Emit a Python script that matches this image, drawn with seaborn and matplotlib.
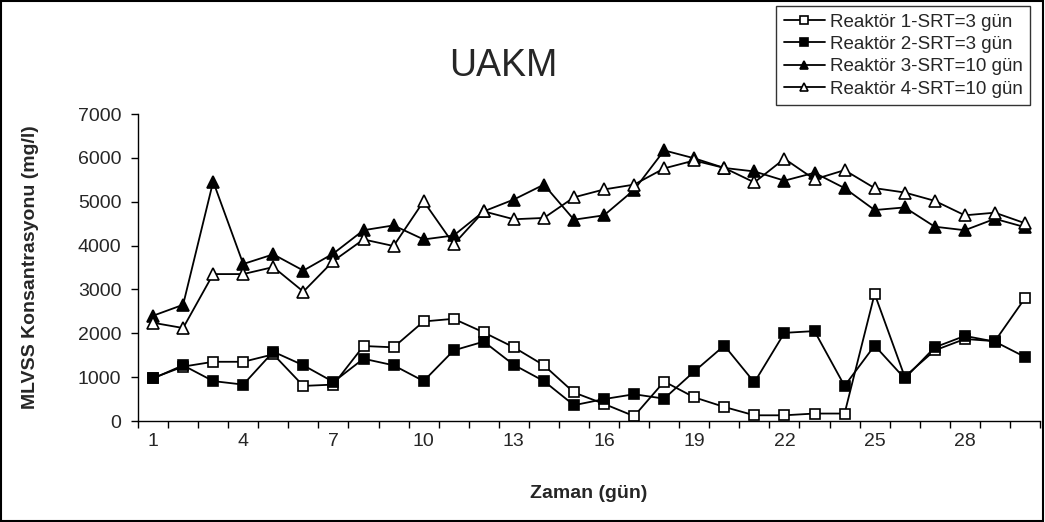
import numpy as np
import pandas as pd
import matplotlib
matplotlib.use("Agg")
import matplotlib.pyplot as plt
import seaborn as sns
from matplotlib.patches import Rectangle

days = list(range(1, 31))
r1 = [980, 1240, 1350, 1350, 1520, 800, 830, 1710, 1680, 2270, 2330, 2020,
      1680, 1270, 650, 390, 110, 900, 540, 320, 130, 130, 170, 170,
      2900, 1010, 1610, 1870, 1820, 2800]
r2 = [970, 1270, 910, 830, 1580, 1270, 890, 1420, 1270, 910, 1610, 1810,
      1280, 910, 360, 500, 610, 510, 1130, 1720, 880, 2010, 2050, 800,
      1720, 970, 1680, 1940, 1810, 1460]
r3 = [2400, 2650, 5460, 3580, 3800, 3430, 3820, 4350, 4460, 4140, 4230, 4780,
      5050, 5390, 4590, 4690, 5270, 6170, 5990, 5770, 5690, 5480, 5660, 5310,
      4810, 4870, 4430, 4350, 4610, 4420]
r4 = [2240, 2120, 3350, 3350, 3510, 2950, 3650, 4140, 3990, 5010, 4030, 4780,
      4600, 4630, 5100, 5280, 5390, 5760, 5940, 5770, 5440, 5980, 5510, 5720,
      5310, 5210, 5020, 4690, 4750, 4510]

labels = ["Reaktör 1-SRT=3 gün", "Reaktör 2-SRT=3 gün",
          "Reaktör 3-SRT=10 gün", "Reaktör 4-SRT=10 gün"]
series = [r1, r2, r3, r4]
styles = [("s", "white", 7), ("s", "black", 7),
          ("^", "black", 8.5), ("^", "white", 8.5)]


def main():
    sns.set_style("white")
    plt.rcParams["font.family"] = ["Liberation Sans", "DejaVu Sans"]

    fig = plt.figure(figsize=(10.45, 5.22), dpi=100)
    ax = fig.add_axes([138 / 1045, 1 - 421 / 522, 902 / 1045, 307 / 522])

    for lab, vals, (m, fc, ms) in zip(labels, series, styles):
        df = pd.DataFrame({"day": days, "val": vals})
        sns.lineplot(data=df, x="day", y="val", ax=ax, color="black",
                     linewidth=1.3, marker=m, markersize=ms,
                     markerfacecolor=fc, markeredgecolor="black",
                     markeredgewidth=1.2, label=lab, legend=False)

    ax.set_xlim(0.5, 30.5)
    ax.set_ylim(0, 7000)
    ax.set_yticks(np.arange(0, 7001, 1000))
    ax.set_xticks(days[::3])
    ax.set_xticks(np.arange(0.5, 31, 1), minor=True)
    ax.tick_params(axis="x", which="major", length=0, labelsize=14, pad=9)
    ax.tick_params(axis="x", which="minor", length=5, width=1, color="black",
                   direction="out", bottom=True)
    ax.tick_params(axis="y", length=5, width=1, color="black", labelsize=14,
                   direction="out", left=True, pad=7)
    for s in ["top", "right"]:
        ax.spines[s].set_visible(False)
    for s in ["left", "bottom"]:
        ax.spines[s].set_color("black")
        ax.spines[s].set_linewidth(1)

    ax.set_xlabel("Zaman (gün)", fontsize=14, fontweight="bold", labelpad=25)
    ax.set_ylabel("MLVSS Konsantrasyonu (mg/l)", fontsize=14,
                  fontweight="bold", labelpad=28)
    fig.text(503 / 1045, 1 - 66 / 522, "UAKM", fontsize=27,
             ha="center", va="center")

    handles, labs = ax.get_legend_handles_labels()
    leg = fig.legend(handles, labs, loc="upper right",
                     bbox_to_anchor=(1030 / 1045, 1 - 6 / 522),
                     fontsize=13.5, frameon=True, fancybox=False,
                     handlelength=2.2, handletextpad=0.25, labelspacing=0.28,
                     borderpad=0.4, borderaxespad=0)
    leg.get_frame().set_edgecolor("black")
    leg.get_frame().set_linewidth(1)
    for h in leg.legend_handles:
        h.set_markersize(6)

    fig.patches.append(Rectangle((0.001, 0.002), 0.997, 0.996,
                                 transform=fig.transFigure, fill=False,
                                 edgecolor="black", linewidth=1.5))
    fig.savefig("out.png", dpi=100)
    plt.close("all")


if __name__ == "__main__":
    main()
